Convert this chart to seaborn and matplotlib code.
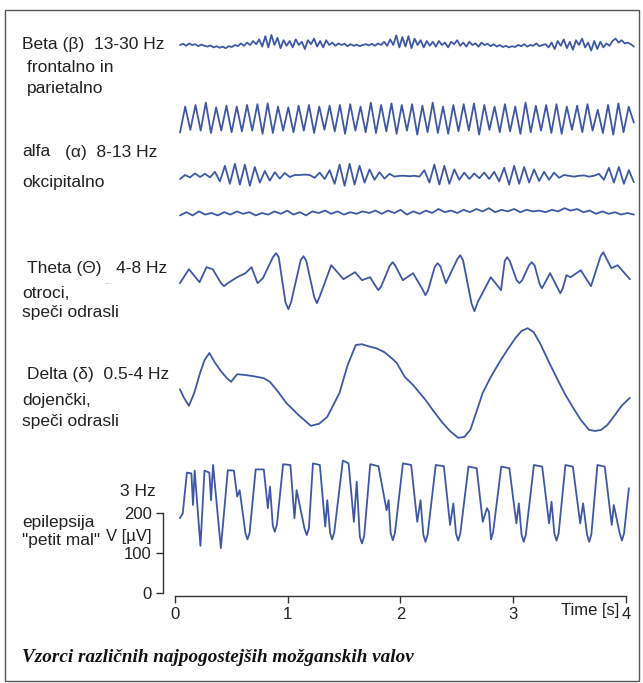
import numpy as np
import matplotlib.pyplot as plt
import seaborn as sns
from matplotlib.patches import Rectangle

# --- podatki (vrednosti v µV, odčitane s slike) ---
beta_vals = [0, 3, -2, 4, 0, 2, -3, 1, -2, -4, -1, -6, -3, -7, -4, -8, -3, -5, 0, -3,
             4, -2, 6, 0, 10, 2, 14, -4, 22, -6, 25,
             0, 18, -8, 12, -2, 10, -6, 14, 0, 8, -10, 12, 2, 16, -4, 10, -6, 12, 0,
             6, -2, 4, 0, 3, -3, 2, -2, 1, -3, 0, 2, -1, 3, -2, 4, 0,
             8, -2, 14, 0, 24, -6, 20, -4, 22, -8, 16, 0, 12, -6, 10,
             -2, 8, -4, 10, 0, 6, -6, 8, 2, 12, -2, 6, -4, 8, 0, 4, -4, 6, 0, 3,
             -3, 2, -4, 0, -5, -2, -6, -3, -5, 0, -3, 2, -4, 0, -2, 4, -3, 0, 2,
             -6, 6, -10, 10, -2, 14, -8, 8, -12, 12, 0, 16, -6, 6, -14, 10, -10, 8, -6, 4,
             -2, 10, 16, 6, 12, 4, 6, 2, -4]

alfa1_vals = [-35, 30, -28, 34, -30, 40, -36, 28, -30, 32, -34, 30, -32, 34, -30, 36,
              -38, 38, -36, 30, -30, 28, -34, 32, -30, 34, -36, 30, -28, 32, -32, 34,
              -38, 36, -30, 30, -34, 40, -36, 34, -32, 38, -38, 34, -30, 36, -40, 32,
              -34, 40, -36, 30, -38, 34, -32, 36, -30, 38, -40, 34, -28, 30, -34, 36,
              -32, 30, -38, 40, -34, 32, -30, 34, -36, 36, -38, 30, -28, 32, -34, 36,
              -30, 22, -36, 34, -40, 38, -34, 30, -10]

alfa2_vals = [-8, 2, -4, 6, -3, 5, -4, 10,
              -14, 25, -20, 30, -22, 28, -25, 22, -17,
              12, -12, 9, -7, 7, -3,
              2, 2, 3, 2,
              -5, 8, -8, 14,
              -20, 28, -25, 30, -22, 25, -17, 16,
              -10, 9, -7, 5, -2,
              0, 0, -1, 0, -2,
              14, -17, 28, -22, 25, -20, 16,
              -10, 8, -8, 6, -6, 8, -8, 10,
              -14, 20, -22, 25, -20, 22, -17, 16, -13,
              10, -10, 8, -5, 2,
              0, -2, 0, 1, -2, 0, 5,
              -10, 20, -17, 22, -20, 14, -16]

alfa3_vals = [-6, 2, -6, 4, -4, 0, -6, 2, -4, 4, -2, 2, -6, 0, -4, 4, -2, 6, -4, 2,
              -6, 4, 0, 6, -2, 4, -4, 2, -2, 4, 0, 6, -2, 6, 0, 8, -4, 4, -2, 6,
              0, 10, 2, 6, 0, 8, 2, 10, 4, 12, 2, 8, 4, 10, 2, 8, 4, 6, 2, 8,
              4, 12, 6, 10, 2, 6, -2, 4, -2, 2, -4, 0, -4]

theta_t = [0.044, 0.124, 0.218, 0.280, 0.335, 0.410, 0.436, 0.465, 0.552, 0.625,
           0.679, 0.733, 0.780, 0.870, 0.897, 0.920, 0.980, 1.006, 1.030, 1.115,
           1.140, 1.165, 1.235, 1.259, 1.285, 1.386, 1.495, 1.597, 1.659, 1.731,
           1.780, 1.804, 1.830, 1.905, 1.931, 1.955, 2.021, 2.112, 2.200, 2.221,
           2.245, 2.305, 2.330, 2.355, 2.403, 2.505, 2.530, 2.555, 2.630, 2.656,
           2.685, 2.801, 2.892, 2.925, 2.946, 2.970, 3.030, 3.055, 3.080, 3.140,
           3.164, 3.190, 3.235, 3.255, 3.275, 3.327, 3.395, 3.418, 3.440, 3.472,
           3.509, 3.599, 3.690, 3.775, 3.799, 3.820, 3.871, 3.926, 4.035]
theta_v = [-27.5, 7.5, -25, 12.5, 7.5, -28, -35, -28, -12.5, -2.5,
           12.5, -27.5, -15, 38, 47.5, 38, -75, -92.5, -75, 30,
           40, 28, -62, -77.5, -60, 17.5, -17.5, 0, -20, -12.5,
           -35, -45, -35, 16, 25, 16, -20, -2.5, -45, -57.5,
           -45, 14, 22.5, 14, -27.5, 33, 42.5, 30, -78, -97.5,
           -75, -12.5, -45, 28, 37.5, 28, -20, -27.5, -20, 17,
           25, 17, -30, -40, -30, -2.5, -40, -52.5, -40, -7.5,
           -12.5, 5, -35, 40, 50, 38, 10, 17.5, -17.5]

delta_t = [0.044, 0.080, 0.124, 0.171, 0.225, 0.262, 0.305, 0.352, 0.407, 0.461,
           0.498, 0.523, 0.552, 0.624, 0.697, 0.788, 0.842, 0.915, 0.988, 1.096,
           1.205, 1.278, 1.350, 1.405, 1.459, 1.532, 1.604, 1.658, 1.713, 1.785,
           1.858, 1.931, 1.967, 2.039, 2.112, 2.221, 2.293, 2.366, 2.439, 2.511,
           2.566, 2.620, 2.674, 2.729, 2.801, 2.874, 2.946, 3.019, 3.073, 3.128,
           3.182, 3.237, 3.309, 3.382, 3.454, 3.527, 3.599, 3.672, 3.726, 3.781,
           3.835, 3.889, 3.962, 4.035]
delta_v = [-11, -32, -52, -20, 32, 62, 80, 57, 35, 17,
           8, 17, 27, 25, 22, 17, 8, -17, -45, -75,
           -102, -97, -80, -50, -20, 50, 100, 102, 97, 92,
           82, 65, 55, 20, 0, -37, -65, -92, -115, -132,
           -130, -112, -67, -20, 20, 55, 87, 117, 135, 142,
           132, 105, 62, 20, -20, -55, -87, -112, -115, -112,
           -100, -80, -52, -32]

epi_t = [0.044, 0.069, 0.106, 0.146, 0.160, 0.175, 0.226, 0.262, 0.305, 0.320,
         0.338, 0.407, 0.469, 0.523, 0.552, 0.574, 0.625, 0.643, 0.662, 0.716,
         0.788, 0.824, 0.843, 0.868, 0.886, 0.905, 0.959, 1.024, 1.060, 1.079,
         1.150, 1.169, 1.188, 1.224, 1.285, 1.333, 1.351, 1.376, 1.394, 1.413,
         1.489, 1.540, 1.587, 1.612, 1.640, 1.659, 1.678, 1.732, 1.805, 1.877,
         1.895, 1.913, 1.932, 1.951, 2.022, 2.095, 2.149, 2.178, 2.203, 2.222,
         2.241, 2.313, 2.385, 2.440, 2.469, 2.493, 2.512, 2.531, 2.603, 2.676,
         2.730, 2.767, 2.785, 2.803, 2.822, 2.894, 2.966, 3.028, 3.050, 3.074,
         3.093, 3.112, 3.184, 3.257, 3.318, 3.340, 3.365, 3.384, 3.403, 3.463,
         3.529, 3.594, 3.620, 3.655, 3.674, 3.693, 3.747, 3.812, 3.874, 3.892,
         3.945, 3.964, 3.983, 4.026]
epi_v = [187, 199, 301, 299, 220, 306, 118, 306, 301, 232,
         320, 112, 307, 306, 241, 257, 150, 134, 150, 309,
         309, 212, 266, 168, 153, 172, 322, 320, 187, 257,
         160, 145, 162, 324, 320, 166, 232, 150, 134, 152,
         331, 324, 178, 278, 140, 124, 142, 322, 317, 207,
         232, 150, 132, 150, 324, 320, 178, 232, 146, 128,
         146, 320, 317, 170, 224, 148, 131, 149, 316, 312,
         178, 212, 203, 134, 152, 316, 312, 174, 224, 146,
         128, 146, 320, 316, 174, 228, 149, 131, 149, 320,
         316, 174, 224, 146, 128, 146, 320, 316, 170, 220,
         149, 131, 149, 262]

# odmiki posameznih sledi (µV na skupni osi)
baseline = {"beta": 1370, "alfa1": 1186, "alfa2": 1043, "alfa3": 950,
            "theta": 802, "delta": 520}

t_start, t_end = 0.045, 4.07

W, H = 643, 683
barva = "#3f58a6"

sns.set_style("white")
plt.rcParams["font.family"] = ["Liberation Sans", "DejaVu Sans"]

fig = plt.figure(figsize=(W / 100, H / 100), dpi=100)
ax = fig.add_axes([163 / W, 87 / H, 480 / W, 576 / H])


def risi(t, v, odmik):
    sns.lineplot(x=np.asarray(t), y=np.asarray(v, dtype=float) + odmik, ax=ax,
                 color=barva, lw=1.3, sort=False, estimator=None)


def mreza(vals):
    return np.linspace(t_start, t_end, len(vals))


risi(mreza(beta_vals), beta_vals, baseline["beta"])
risi(mreza(alfa1_vals), alfa1_vals, baseline["alfa1"])
risi(mreza(alfa2_vals), alfa2_vals, baseline["alfa2"])
risi(mreza(alfa3_vals), alfa3_vals, baseline["alfa3"])
risi(theta_t, theta_v, baseline["theta"])
risi(delta_t, delta_v, baseline["delta"])
risi(epi_t, epi_v, 0)

ax.set_xlim(-0.106, -0.106 + 480 / 112.75)
ax.set_ylim(-7.5, -7.5 + 576 * 2.5)
ax.set_facecolor("white")
for s in ["top", "right"]:
    ax.spines[s].set_visible(False)
ax.spines["left"].set_bounds(0, 200)
ax.spines["bottom"].set_bounds(0, 4)
for s in ["left", "bottom"]:
    ax.spines[s].set_color("#333333")
    ax.spines[s].set_linewidth(1)
ax.set_yticks([0, 100, 200])
ax.set_xticks([0, 1, 2, 3, 4])
ax.set_xticklabels(["0", "1", "2", "3", "4"])
ax.tick_params(axis="both", direction="out", length=5, width=1, color="#333333",
               labelsize=12, labelcolor="#222222", pad=3, left=True, bottom=True)
ax.set_xlabel("")
ax.set_ylabel("")


def px(x, y):
    return x / W, 1 - y / H


fs = 12.5
napisi = [
    (22, 45, "Beta (β)  13-30 Hz"),
    (27, 68, "frontalno in"),
    (27, 88, "parietalno"),
    (22, 152, "alfa"),
    (65, 152, "(α)  8-13 Hz"),
    (22, 183, "okcipitalno"),
    (27, 268, "Theta (Θ)   4-8 Hz"),
    (22, 293, "otroci,"),
    (22, 312, "speči odrasli"),
    (27, 374, "Delta (δ)  0.5-4 Hz"),
    (22, 400, "dojenčki,"),
    (22, 421, "speči odrasli"),
    (120, 491, "3 Hz"),
    (22, 522, "epilepsija"),
    (22, 541, "\"petit mal\""),
]
for x, y, s in napisi:
    fig.text(*px(x, y), s, fontsize=fs, color="#222222", va="center", ha="left")

fig.text(*px(106, 537), "V [µV]", fontsize=12, color="#222222",
         va="center", ha="left")
fig.text(*px(104, 282), "...", fontsize=6, color="#999999", va="center", ha="left")
fig.text(*px(619, 611), "Time [s]", fontsize=12, color="#222222",
         va="center", ha="right")

fig.text(*px(22, 657), "Vzorci različnih najpogostejših možganskih valov",
         family=["Liberation Serif", "DejaVu Serif"], style="italic",
         weight="bold", fontsize=13.8, color="#111111", va="center", ha="left")

fig.patches.append(Rectangle((5 / W, 1 - 681 / H), 634 / W, 671 / H,
                             transform=fig.transFigure, fill=False,
                             edgecolor="#555555", lw=1))

fig.savefig("out.png", dpi=100, facecolor="white")
